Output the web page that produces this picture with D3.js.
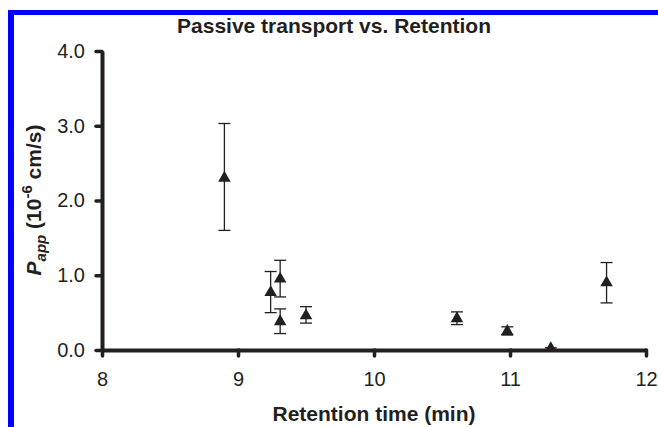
<html>
<head>
<title>Passive transport vs. Retention</title>
<script src="https://d3js.org/d3.v7.min.js" charset="utf-8"></script>
<style>
body { margin: 0; background: white; font-family: "Liberation Sans", Arial, sans-serif; }
</style>
</head>
<body>
<script>
// values
var retention = [8.9, 9.24, 9.31, 9.31, 9.5, 10.61, 10.98, 11.3, 11.71];
var papp      = [2.30, 0.77, 0.95, 0.38, 0.46, 0.42, 0.25, 0.02, 0.90];
var errLow    = [1.60, 0.50, 0.71, 0.22, 0.36, 0.34, 0.20, 0.00, 0.63];
var errHigh   = [3.03, 1.05, 1.20, 0.55, 0.58, 0.51, 0.31, 0.03, 1.17];
var xTicks = [8, 9, 10, 11, 12];
var yTicks = [0, 1, 2, 3, 4];

var width = 658, height = 427;
var ink = "#231f20";

var svg = d3.select("body").append("svg")
  .attr("width", width).attr("height", height);

// blue frame (left and top)
svg.append("rect").attr("x", 8).attr("y", 10).attr("width", 6).attr("height", height - 10).attr("fill", "#0000ff");
svg.append("rect").attr("x", 8).attr("y", 10).attr("width", width - 8).attr("height", 5).attr("fill", "#0000ff");

var x = d3.scaleLinear().domain([8, 12]).range([102, 646]);
var y = d3.scaleLinear().domain([0, 4]).range([350, 51]);

var xAxis = svg.append("g").attr("transform", "translate(0," + y(0) + ")")
  .call(d3.axisBottom(x).tickValues(xTicks).tickSizeInner(6).tickSizeOuter(0).tickPadding(16).tickFormat(d3.format("d")));
var yAxis = svg.append("g").attr("transform", "translate(" + x(8) + ",0)")
  .call(d3.axisLeft(y).tickValues(yTicks).tickSizeInner(6).tickSizeOuter(0).tickPadding(11).tickFormat(d3.format(".1f")));

[xAxis, yAxis].forEach(function(a) {
  a.select(".domain").attr("stroke", ink).attr("stroke-width", 4);
  a.selectAll(".tick line").attr("stroke", ink).attr("stroke-width", 3.5).attr("stroke-linecap", "round");
  a.selectAll(".tick text").attr("fill", ink).style("font-size", "20px")
    .style("font-family", "'Liberation Sans', Arial, sans-serif");
});

var pts = retention.map(function(r, i) {
  return { x: r, y: papp[i], lo: errLow[i], hi: errHigh[i] };
});

var g = svg.append("g");
// error bars
g.selectAll("line.err").data(pts).enter().append("line")
  .attr("x1", function(d) { return x(d.x); }).attr("x2", function(d) { return x(d.x); })
  .attr("y1", function(d) { return y(d.lo); }).attr("y2", function(d) { return y(d.hi); })
  .attr("stroke", ink).attr("stroke-width", 1.3);
g.selectAll("line.capHi").data(pts).enter().append("line")
  .attr("x1", function(d) { return x(d.x) - 6; }).attr("x2", function(d) { return x(d.x) + 6; })
  .attr("y1", function(d) { return y(d.hi); }).attr("y2", function(d) { return y(d.hi); })
  .attr("stroke", ink).attr("stroke-width", 1.3);
g.selectAll("line.capLo").data(pts).enter().append("line")
  .attr("x1", function(d) { return x(d.x) - 6; }).attr("x2", function(d) { return x(d.x) + 6; })
  .attr("y1", function(d) { return y(d.lo); }).attr("y2", function(d) { return y(d.lo); })
  .attr("stroke", ink).attr("stroke-width", 1.3);

// triangle markers
var tri = d3.symbol().type(d3.symbolTriangle).size(68);
g.selectAll("path.pt").data(pts).enter().append("path")
  .attr("d", tri)
  .attr("transform", function(d) { return "translate(" + x(d.x) + "," + y(d.y) + ")"; })
  .attr("fill", ink);

// titles
svg.append("text").attr("x", 334).attr("y", 33).attr("text-anchor", "middle")
  .style("font-size", "21px").style("font-weight", "bold").attr("fill", ink)
  .text("Passive transport vs. Retention");

svg.append("text").attr("x", 374).attr("y", 421).attr("text-anchor", "middle")
  .style("font-size", "21px").style("font-weight", "bold").attr("fill", ink)
  .text("Retention time (min)");

var yt = svg.append("text").attr("transform", "translate(41,200) rotate(-90)")
  .attr("text-anchor", "middle").style("font-size", "21px").style("font-weight", "bold").attr("fill", ink);
yt.append("tspan").style("font-style", "italic").text("P");
yt.append("tspan").style("font-style", "italic").style("font-size", "15px").attr("dy", 5).text("app");
yt.append("tspan").attr("dy", -5).text(" (10");
yt.append("tspan").style("font-size", "15px").attr("dy", -9).text("-6");
yt.append("tspan").attr("dy", 9).text(" cm/s)");
</script>
</body>
</html>
